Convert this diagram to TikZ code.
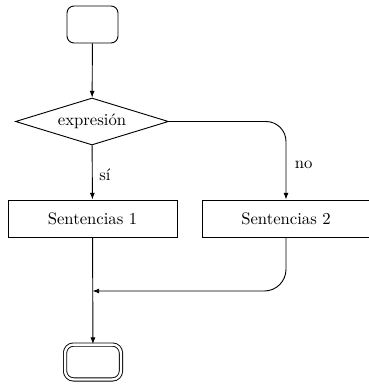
\documentclass[tikz,border=0pt]{standalone}
\usetikzlibrary{shapes.geometric,arrows.meta}
\begin{document}
\begin{tikzpicture}[x=0.6pt,y=-0.6pt,line width=0.55pt,
  arr/.style={-{Latex[length=4pt,width=3pt]}},
  terminal/.style={draw,rounded corners=4.2pt,minimum width=30.6pt,
    minimum height=22.2pt,inner sep=0pt},
  endterminal/.style={draw,double,double distance=1.4pt,rounded corners=5pt,
    minimum width=33.5pt,minimum height=20.9pt,inner sep=0pt},
  decision/.style={draw,diamond,shape aspect=3.25,inner sep=0pt,
    minimum width=91.8pt,minimum height=28.2pt},
  process/.style={draw,rectangle,minimum width=101.4pt,minimum height=22.2pt,
    inner sep=0pt},
  lbl/.style={inner sep=0pt}]
  \useasboundingbox (0,0) rectangle (368,384);

  % nodes
  \node[terminal] (start) at (92.5,24.5) {};
  \node[decision] (cond) at (92,121.5) {expresión};
  \node[process] (s1) at (92.5,218.5) {Sentencias 1};
  % the second block runs past the right edge of the page
  \node[process,minimum width=105.6pt] (s2frame) at (290,218.5) {};
  \node[minimum height=22.2pt,inner sep=0pt] (s2) at (286,218.5) {Sentencias 2};
  \node[endterminal] (stop) at (93,362) {};
  \coordinate (join) at (92.5,291);

  % connectors
  \draw[arr] (start) -- (cond);
  \draw[arr] (cond) -- node[lbl,pos=0.55,right=4pt] (yes) {sí} (s1);
  \draw[arr,rounded corners=12pt] (cond.east) -| node[lbl,pos=0.78,right=5pt] (no) {no} (s2.north);
  \draw[arr,rounded corners=13pt] (s2.south) |- (join);
  \draw[arr] (s1) -- (stop);
\end{tikzpicture}
\end{document}
